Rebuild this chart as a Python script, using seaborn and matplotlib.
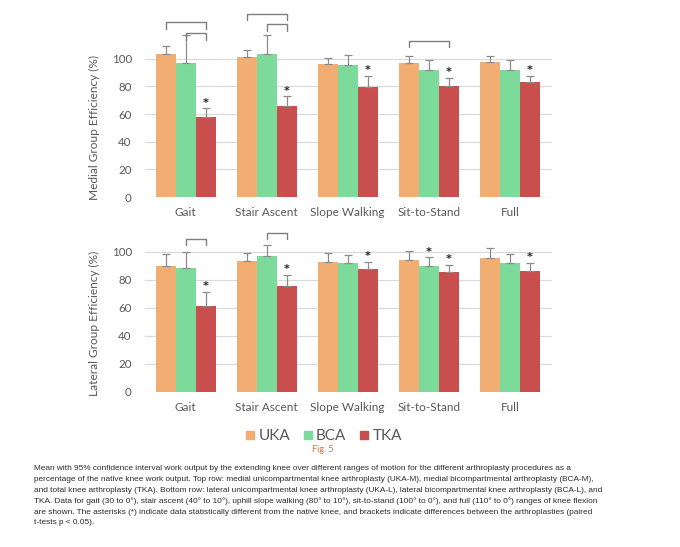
import matplotlib
matplotlib.use("Agg")
import matplotlib.pyplot as plt
import seaborn as sns
import pandas as pd
import numpy as np
from matplotlib.lines import Line2D

categories = ["Gait", "Stair Ascent", "Slope Walking", "Sit-to-Stand", "Full"]
groups = ["UKA", "BCA", "TKA"]

medial_uka = [103.4, 101.4, 96.1, 97.1, 97.6]
medial_bca = [96.6, 103.6, 95.2, 91.6, 92.0]
medial_tka = [57.6, 65.8, 79.8, 80.5, 82.9]
medial_uka_hi = [109.0, 106.3, 100.5, 102.2, 101.9]
medial_bca_hi = [117.0, 116.9, 102.4, 99.0, 98.8]
medial_tka_hi = [64.1, 72.8, 87.7, 86.0, 87.7]

lateral_uka = [90.0, 93.3, 93.1, 94.0, 96.0]
lateral_bca = [88.8, 97.4, 92.4, 89.8, 92.4]
lateral_tka = [61.4, 75.5, 87.9, 85.5, 86.7]
lateral_uka_hi = [98.3, 99.3, 99.5, 101.0, 102.6]
lateral_bca_hi = [99.8, 105.0, 97.9, 96.2, 98.8]
lateral_tka_hi = [71.4, 83.6, 93.1, 91.0, 92.1]

# asterisks: (category index, group index)
medial_stars = [(0, 2), (1, 2), (2, 2), (3, 2), (4, 2)]
lateral_stars = [(0, 2), (1, 2), (2, 2), (3, 1), (3, 2), (4, 2)]

# brackets: (category index, group a, group b, height)
medial_brackets = [(0, 0, 2, 126.3), (0, 1, 2, 118.3), (1, 0, 2, 132.3), (1, 1, 2, 124.8), (3, 0, 2, 113.0)]
lateral_brackets = [(0, 1, 2, 109.3), (1, 1, 2, 113.8)]

yticks = [0, 20, 40, 60, 80, 100]

colors = {"UKA": "#F2AE72", "BCA": "#7CDB9B", "TKA": "#C94F4F"}
txt_gray = "#595959"
grid_gray = "#D9D9D9"

caption_lines = [
    "Mean with 95% confidence interval work output by the extending knee over different ranges of motion for the different arthroplasty procedures as a",
    "percentage of the native knee work output. Top row: medial unicompartmental knee arthroplasty (UKA-M), medial bicompartmental arthroplasty (BCA-M),",
    "and total knee arthroplasty (TKA). Bottom row: lateral unicompartmental knee arthroplasty (UKA-L), lateral bicompartmental knee arthroplasty (BCA-L), and",
    "TKA. Data for gait (30 to 0°), stair ascent (40° to 10°), uphill slope walking (80° to 10°), sit-to-stand (100° to 0°), and full (110° to 0°) ranges of knee flexion",
    "are shown. The asterisks (*) indicate data statistically different from the native knee, and brackets indicate differences between the arthroplasties (paired",
    "t-tests p < 0.05).",
]

sns.set_theme(style="white")
plt.rcParams["font.family"] = ["Lato", "DejaVu Sans"]

fig = plt.figure(figsize=(6.8, 5.47), dpi=100)
ax_top = fig.add_axes([145 / 680, 1 - 197 / 547, 407 / 680, 193.6 / 547])
ax_bot = fig.add_axes([145 / 680, 1 - 392 / 547, 407 / 680, 168 / 547])


def make_df(u, b, t, uh, bh, th):
    rows = []
    for i, c in enumerate(categories):
        rows.append(dict(cat=c, grp="UKA", val=u[i], hi=uh[i]))
        rows.append(dict(cat=c, grp="BCA", val=b[i], hi=bh[i]))
        rows.append(dict(cat=c, grp="TKA", val=t[i], hi=th[i]))
    return pd.DataFrame(rows)


def draw(ax, df, ylabel, ylim, stars, brackets, label_y):
    sns.barplot(data=df, x="cat", y="val", hue="grp", hue_order=groups, order=categories,
                palette=colors, width=0.74, errorbar=None, ax=ax, legend=False,
                saturation=1, linewidth=0, zorder=2)
    ax.set_xlim(-0.5, 4.52)
    ax.set_ylim(*ylim)
    ax.set_yticks(yticks)
    ax.yaxis.grid(True, color=grid_gray, linewidth=0.8, zorder=0)
    ax.set_axisbelow(True)
    for s in ax.spines.values():
        s.set_visible(False)
    ax.tick_params(axis="both", length=0, colors=txt_gray)
    ax.tick_params(axis="y", pad=9.5, labelsize=8.3)
    ax.tick_params(axis="x", pad=7, labelsize=8.5)
    ax.set_xlabel("")
    ax.set_ylabel(ylabel, color=txt_gray, fontsize=8.6)
    ax.yaxis.set_label_coords(-45 / 407, label_y)
    # bar centers by group, category
    centers = {}
    for gi, cont in enumerate(ax.containers):
        for ci, p in enumerate(cont.patches):
            centers[(ci, gi)] = p.get_x() + p.get_width() / 2
    # error bars (upper only)
    for gi, g in enumerate(groups):
        sub = df[df.grp == g].set_index("cat").loc[categories]
        xs = [centers[(ci, gi)] for ci in range(len(categories))]
        up = (sub["hi"] - sub["val"]).values
        ax.errorbar(xs, sub["val"].values, yerr=[np.zeros_like(up), up], fmt="none",
                    ecolor="#8C8C8C", elinewidth=0.9, capsize=3, capthick=0.9, zorder=3)
    for ci, gi in stars:
        sub = df[(df.cat == categories[ci]) & (df.grp == groups[gi])].iloc[0]
        ax.text(centers[(ci, gi)], sub["hi"] + 0.5, "*", ha="center", va="bottom",
                fontsize=8, color="#222222", fontweight="bold", family="DejaVu Sans")
    for ci, ga, gb, h in brackets:
        xa, xb = centers[(ci, ga)], centers[(ci, gb)]
        tip = 4.5
        ax.plot([xa, xa, xb, xb], [h - tip, h, h, h - tip], color="#7F7F7F",
                linewidth=1.0, zorder=3, clip_on=False)


draw(ax_top, make_df(medial_uka, medial_bca, medial_tka, medial_uka_hi, medial_bca_hi, medial_tka_hi),
     "Medial Group Efficiency (%)", (0, 140), medial_stars, medial_brackets, 0.36)
draw(ax_bot, make_df(lateral_uka, lateral_bca, lateral_tka, lateral_uka_hi, lateral_bca_hi, lateral_tka_hi),
     "Lateral Group Efficiency (%)", (0, 120), lateral_stars, lateral_brackets, 0.41)

handles = [Line2D([0], [0], marker="s", linestyle="none", markersize=6,
                  markerfacecolor=colors[g], markeredgecolor=colors[g], label=g) for g in groups]
fig.legend(handles=handles, loc="center", bbox_to_anchor=(324 / 680, 1 - 436.5 / 547), ncol=3,
           frameon=False, fontsize=11, handletextpad=0.25, columnspacing=0.9,
           labelcolor=txt_gray, handlelength=0.55)
fig.text(323 / 680, 1 - 449 / 547, "Fig. 5", ha="center", va="center", fontsize=6.5, color="#E0703C")

for i, line in enumerate(caption_lines):
    fig.text(34 / 680, 1 - (469 + i * 10.8) / 547, line, ha="left", va="center",
             fontsize=5.95, color="#2B2B2B", family=["Liberation Sans Narrow", "Liberation Sans", "DejaVu Sans"])

fig.savefig("out.png", dpi=100, facecolor="white")
